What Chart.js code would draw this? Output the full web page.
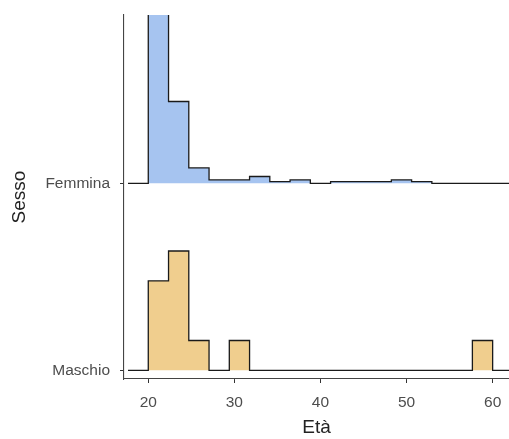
<!DOCTYPE html>
<html>
<head>
<meta charset="utf-8">
<script src="https://cdn.jsdelivr.net/npm/chart.js@4"></script>
<style>
  html, body { margin: 0; padding: 0; background: #fff; }
  #wrap { width: 509px; height: 439px; }
</style>
</head>
<body>
<div id="wrap"><canvas id="ridgeChart"></canvas></div>
<script>
// Età per sesso - ridgeline histogram

const groups = ['Maschio', 'Femmina'];
const binStart = 20;
const binWidth = 40 / 17;
const femminaCounts = [101, 48, 9, 2, 2, 4, 1, 2, 0, 1, 1, 1, 2, 1, 0, 0, 0];
const maschioCounts = [3, 4, 1, 0, 1, 0, 0, 0, 0, 0, 0, 0, 0, 0, 0, 0, 1];
const xTicks = [20, 30, 40, 50, 60];

const HEIGHT_SCALE = 1.595;

function ridgePoints(counts, base) {
    const total = counts.reduce((a, b) => a + b, 0);
    const pts = [{ x: binStart - binWidth, y: base }];
    counts.forEach((c, i) => {
        pts.push({ x: binStart + i * binWidth, y: base + c / total * HEIGHT_SCALE });
    });
    const end = binStart + counts.length * binWidth;
    pts.push({ x: end, y: base });
    pts.push({ x: end + binWidth, y: base });
    return pts;
}

const tickFont = { family: 'Liberation Sans, Arial, sans-serif', size: 15.5 };
const titleFont = { family: 'Liberation Sans, Arial, sans-serif', size: 19 };

new Chart(document.getElementById('ridgeChart'), {
    type: 'line',
    data: {
        datasets: [
            {
                label: 'Femmina',
                data: ridgePoints(femminaCounts, 2),
                stepped: true,
                borderColor: '#1a1a1a',
                borderWidth: 1.3,
                backgroundColor: '#A6C4F0',
                fill: { value: 2 },
                pointRadius: 0
            },
            {
                label: 'Maschio',
                data: ridgePoints(maschioCounts, 1),
                stepped: true,
                borderColor: '#1a1a1a',
                borderWidth: 1.3,
                backgroundColor: '#F0CE8E',
                fill: { value: 1 },
                pointRadius: 0
            }
        ]
    },
    options: {
        responsive: true,
        maintainAspectRatio: false,
        animation: false,
        layout: { padding: { top: 15, left: 0, right: 0, bottom: 0 } },
        plugins: { legend: { display: false }, tooltip: { enabled: false } },
        scales: {
            x: {
                type: 'linear',
                min: 17.18,
                max: 61.9,
                afterBuildTicks: s => { s.ticks = xTicks.map(v => ({ value: v })); },
                afterFit: s => { s.height = 60; s.paddingLeft = 0; s.paddingRight = 0; },
                grid: { drawOnChartArea: false, drawTicks: true, tickLength: 4, color: '#333' },
                border: { display: true, color: '#444', width: 1.1 },
                ticks: { color: '#4d4d4d', font: tickFont, padding: 10, maxRotation: 0 },
                title: { display: true, text: 'Età', color: '#222', font: titleFont, padding: { top: 0, bottom: 0 } }
            },
            y: {
                type: 'linear',
                min: 0.9535,
                max: 2.9,
                afterBuildTicks: s => { s.ticks = [1, 2].map(v => ({ value: v })); },
                afterFit: s => { s.width = 124; s.paddingTop = 0; s.paddingBottom = 0; },
                grid: { drawOnChartArea: false, drawTicks: true, tickLength: 4, color: '#333' },
                border: { display: true, color: '#444', width: 1.1 },
                ticks: { color: '#4d4d4d', font: tickFont, padding: 10, callback: v => groups[v - 1] },
                title: { display: true, text: 'Sesso', color: '#222', font: titleFont, padding: { top: 8, bottom: 0 } }
            }
        }
    }
});
</script>
</body>
</html>
